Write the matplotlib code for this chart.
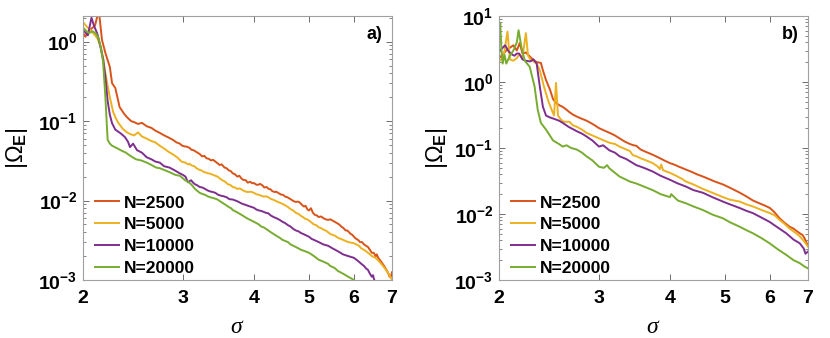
import math
import matplotlib
matplotlib.use("Agg")
import matplotlib.pyplot as plt
from matplotlib.ticker import FixedLocator, NullLocator, LogLocator, NullFormatter

plt.rcParams['font.family'] = ['Liberation Sans', 'DejaVu Sans']
plt.rcParams['mathtext.fontset'] = 'custom'
plt.rcParams['mathtext.rm'] = 'Liberation Sans'
plt.rcParams['mathtext.bf'] = 'Liberation Sans:bold'
plt.rcParams['mathtext.it'] = 'Liberation Serif:italic'

labels = ["N=2500", "N=5000", "N=10000", "N=20000"]
colors = ["#D95319", "#EDB120", "#7E2F8E", "#77AC30"]
xticks = [2, 3, 4, 5, 6, 7]

# ---------------- panel a ----------------
a_s2500 = [2.00, 2.02, 2.04, 2.07, 2.10, 2.12, 2.135, 2.16, 2.19, 2.23, 2.25, 2.28, 2.32, 2.36, 2.39, 2.43,
           2.46, 2.50, 2.54, 2.59, 2.64, 2.68, 2.73, 2.78, 2.83, 2.88, 2.92, 2.96, 2.99, 3.02, 3.05, 3.08,
           3.105, 3.13, 3.155, 3.18, 3.21, 3.24, 3.27, 3.30, 3.33, 3.36, 3.39, 3.42, 3.45, 3.48, 3.51, 3.55,
           3.58, 3.61, 3.64, 3.67, 3.70, 3.74, 3.77, 3.80, 3.83, 3.87, 3.90, 3.94, 3.97, 4.00, 4.04, 4.07,
           4.10, 4.14, 4.17, 4.21, 4.24, 4.28, 4.31, 4.35, 4.38, 4.42, 4.46, 4.50, 4.54, 4.58, 4.62, 4.66,
           4.70, 4.74, 4.78, 4.82, 4.86, 4.90, 4.93, 4.97, 5.00, 5.04, 5.08, 5.12, 5.16, 5.20, 5.25, 5.30,
           5.35, 5.40, 5.45, 5.50, 5.55, 5.60, 5.65, 5.70, 5.75, 5.80, 5.84, 5.88, 5.92, 5.96, 6.00, 6.05,
           6.10, 6.15, 6.20, 6.25, 6.30, 6.35, 6.40, 6.45, 6.50, 6.55, 6.58, 6.62, 6.66, 6.70, 6.74, 6.78,
           6.82, 6.86, 6.90, 6.93, 6.97, 7.00]
a_v2500 = [1.28, 1.15, 1.32, 1.45, 1.60, 2.10, 2.30, 1.05, 0.72, 0.48, 0.30, 0.26, 0.15, 0.125, 0.112, 0.100,
           0.097, 0.092, 0.095, 0.086, 0.082, 0.076, 0.071, 0.066, 0.062, 0.058, 0.054, 0.052, 0.049, 0.048, 0.0475, 0.046,
           0.0435, 0.043, 0.0415, 0.040, 0.0385, 0.036, 0.0365, 0.034, 0.0335, 0.032, 0.0325, 0.031, 0.0295, 0.028, 0.0285, 0.026,
           0.0255, 0.024, 0.0235, 0.022, 0.0215, 0.020, 0.0205, 0.019, 0.0182, 0.018, 0.0168, 0.0172, 0.0165, 0.0166, 0.0158, 0.0158,
           0.0162, 0.0155, 0.0146, 0.0148, 0.0141, 0.0138, 0.0131, 0.0128, 0.0129, 0.0124, 0.0119, 0.0118, 0.0112, 0.0110, 0.0106, 0.0102,
           0.0098, 0.0096, 0.0097, 0.0094, 0.0088, 0.0084, 0.0086, 0.0077, 0.0075, 0.0080, 0.0070, 0.0066, 0.0065, 0.0062, 0.0063, 0.0060,
           0.0058, 0.0057, 0.0058, 0.0056, 0.0054, 0.0052, 0.0050, 0.0047, 0.0045, 0.0042, 0.0042, 0.0040, 0.0038, 0.0037, 0.0035, 0.0033,
           0.0032, 0.0030, 0.0030, 0.0028, 0.0027, 0.0026, 0.0024, 0.0022, 0.0022, 0.0020, 0.0021, 0.0019, 0.0018, 0.0017, 0.0016, 0.0015,
           0.0014, 0.0013, 0.0012, 0.0011, 0.0011, 0.00125]

a_s5000 = [2.00, 2.03, 2.06, 2.09, 2.12, 2.15, 2.17, 2.19, 2.21, 2.23, 2.26, 2.29, 2.31, 2.35, 2.39, 2.43,
           2.46, 2.50, 2.54, 2.59, 2.64, 2.68, 2.73, 2.78, 2.83, 2.88, 2.93, 2.98, 3.00, 3.03, 3.06, 3.08,
           3.11, 3.14, 3.17, 3.20, 3.23, 3.26, 3.29, 3.32, 3.35, 3.39, 3.42, 3.45, 3.48, 3.52, 3.56, 3.60,
           3.63, 3.67, 3.70, 3.74, 3.78, 3.82, 3.86, 3.90, 3.95, 4.00, 4.04, 4.08, 4.12, 4.16, 4.20, 4.24,
           4.28, 4.33, 4.38, 4.44, 4.49, 4.54, 4.59, 4.64, 4.69, 4.74, 4.79, 4.84, 4.88, 4.92, 4.96, 5.00,
           5.05, 5.10, 5.15, 5.20, 5.25, 5.30, 5.35, 5.40, 5.45, 5.50, 5.56, 5.62, 5.68, 5.74, 5.80, 5.86,
           5.93, 6.00, 6.06, 6.12, 6.18, 6.25, 6.30, 6.35, 6.40, 6.45, 6.50, 6.55, 6.60, 6.65, 6.70, 6.75,
           6.80, 6.85, 6.90, 6.95, 7.00]
a_v5000 = [1.76, 1.55, 1.40, 1.25, 1.10, 0.85, 0.62, 0.40, 0.28, 0.20, 0.13, 0.105, 0.094, 0.080, 0.072, 0.068,
           0.066, 0.072, 0.064, 0.060, 0.056, 0.054, 0.049, 0.045, 0.041, 0.038, 0.035, 0.031, 0.0305, 0.030, 0.0285, 0.029,
           0.0275, 0.027, 0.0255, 0.0245, 0.0240, 0.023, 0.0225, 0.022, 0.0218, 0.021, 0.0205, 0.020, 0.019, 0.018, 0.0172, 0.016,
           0.0158, 0.0148, 0.0146, 0.0140, 0.0142, 0.0135, 0.0130, 0.0128, 0.0129, 0.0125, 0.0120, 0.0118, 0.0115, 0.0112, 0.0113, 0.0110,
           0.0105, 0.0102, 0.0098, 0.0094, 0.0091, 0.0087, 0.0083, 0.0078, 0.0075, 0.0070, 0.0068, 0.0064, 0.0062, 0.0059, 0.0058, 0.0056,
           0.0053, 0.0050, 0.0049, 0.0046, 0.0045, 0.0043, 0.0042, 0.0040, 0.0038, 0.0037, 0.0036, 0.0034, 0.0033, 0.0032, 0.0031, 0.0030,
           0.00295, 0.0029, 0.0028, 0.0027, 0.0025, 0.0024, 0.0023, 0.0022, 0.0021, 0.0020, 0.00195, 0.0019, 0.0018, 0.0017, 0.0016, 0.0015,
           0.0014, 0.0013, 0.0012, 0.0011, 0.0010]

a_s10000 = [2.00, 2.02, 2.04, 2.07, 2.09, 2.12, 2.14, 2.17, 2.19, 2.21, 2.23, 2.25, 2.28, 2.33, 2.37, 2.40,
            2.42, 2.45, 2.49, 2.54, 2.59, 2.64, 2.68, 2.73, 2.78, 2.84, 2.90, 2.96, 3.00, 3.03, 3.06, 3.10,
            3.125, 3.15, 3.18, 3.21, 3.245, 3.28, 3.315, 3.35, 3.385, 3.42, 3.46, 3.50, 3.54, 3.58, 3.62, 3.67,
            3.71, 3.75, 3.79, 3.83, 3.87, 3.92, 3.96, 4.00, 4.04, 4.08, 4.12, 4.16, 4.20, 4.24, 4.28, 4.33,
            4.38, 4.44, 4.49, 4.54, 4.59, 4.64, 4.69, 4.74, 4.79, 4.84, 4.88, 4.92, 4.96, 5.00, 5.05, 5.10,
            5.15, 5.20, 5.25, 5.30, 5.35, 5.40, 5.45, 5.50, 5.56, 5.62, 5.68, 5.74, 5.80, 5.86, 5.93, 6.00,
            6.06, 6.12, 6.18, 6.25, 6.30, 6.35, 6.40, 6.45, 6.48, 6.52]
a_v10000 = [1.40, 1.30, 1.20, 2.00, 1.60, 1.25, 0.95, 0.60, 0.36, 0.18, 0.12, 0.094, 0.078, 0.070, 0.063, 0.055,
            0.047, 0.052, 0.043, 0.040, 0.035, 0.033, 0.031, 0.030, 0.027, 0.026, 0.024, 0.022, 0.021, 0.020, 0.017, 0.018,
            0.0168, 0.016, 0.0155, 0.0148, 0.0146, 0.0140, 0.0134, 0.0130, 0.0128, 0.0125, 0.0118, 0.0115, 0.0113, 0.0110, 0.0104, 0.0103,
            0.0100, 0.0097, 0.0093, 0.0090, 0.0088, 0.0085, 0.0083, 0.0081, 0.0077, 0.0075, 0.0074, 0.0072, 0.0070, 0.0069, 0.0065, 0.0062,
            0.0060, 0.0057, 0.0054, 0.0052, 0.0049, 0.0047, 0.0044, 0.0042, 0.0041, 0.0039, 0.0038, 0.0037, 0.0036, 0.0035, 0.0033, 0.0032,
            0.0031, 0.0030, 0.0029, 0.0028, 0.00275, 0.0027, 0.0026, 0.0025, 0.0024, 0.0023, 0.0022, 0.0021, 0.00205, 0.0020, 0.00195, 0.0019,
            0.0018, 0.0017, 0.0016, 0.0015, 0.0014, 0.00134, 0.0012, 0.0011, 0.00115, 0.00098]

a_s20000 = [2.00, 2.03, 2.05, 2.08, 2.11, 2.13, 2.15, 2.17, 2.19, 2.21, 2.23, 2.25, 2.29, 2.33, 2.38, 2.43,
            2.48, 2.53, 2.59, 2.64, 2.69, 2.73, 2.79, 2.85, 2.91, 2.96, 3.00, 3.025, 3.05, 3.075, 3.10, 3.125,
            3.15, 3.18, 3.21, 3.245, 3.28, 3.315, 3.35, 3.40, 3.45, 3.50, 3.55, 3.585, 3.62, 3.645, 3.67, 3.71,
            3.75, 3.79, 3.83, 3.87, 3.92, 3.96, 4.00, 4.04, 4.08, 4.12, 4.16, 4.20, 4.24, 4.28, 4.33, 4.38,
            4.44, 4.49, 4.54, 4.59, 4.64, 4.69, 4.74, 4.79, 4.84, 4.88, 4.92, 4.96, 5.00, 5.05, 5.10, 5.15,
            5.20, 5.25, 5.30, 5.35, 5.40, 5.45, 5.50, 5.56, 5.62, 5.68, 5.74, 5.80, 5.86, 5.93, 6.00]
a_v20000 = [1.50, 1.35, 1.28, 1.35, 1.25, 1.10, 0.85, 0.55, 0.20, 0.058, 0.052, 0.049, 0.046, 0.043, 0.040, 0.036,
            0.033, 0.032, 0.030, 0.028, 0.026, 0.0255, 0.024, 0.0225, 0.021, 0.0205, 0.019, 0.018, 0.0175, 0.0168, 0.016, 0.015,
            0.014, 0.0132, 0.0125, 0.0121, 0.0118, 0.0113, 0.0110, 0.0107, 0.0103, 0.0096, 0.0090, 0.0086, 0.0082, 0.0080, 0.0076, 0.0073,
            0.0070, 0.0067, 0.0064, 0.0061, 0.0058, 0.0056, 0.0054, 0.0052, 0.0050, 0.0047, 0.0046, 0.0044, 0.0042, 0.0040, 0.0038, 0.0036,
            0.0034, 0.0032, 0.0031, 0.0030, 0.0028, 0.0027, 0.0026, 0.0025, 0.0024, 0.00235, 0.0023, 0.00225, 0.0022, 0.0021, 0.0020, 0.0019,
            0.0018, 0.00175, 0.0017, 0.00165, 0.0016, 0.0015, 0.00146, 0.0014, 0.0013, 0.00125, 0.0012, 0.00115, 0.0011, 0.00105, 0.0010]

# ---------------- panel b ----------------
b_s2500 = [2.00, 2.03, 2.06, 2.09, 2.12, 2.15, 2.175, 2.20, 2.23, 2.27, 2.30, 2.33, 2.37, 2.39, 2.42, 2.46,
           2.49, 2.52, 2.56, 2.59, 2.63, 2.66, 2.70, 2.74, 2.79, 2.85, 2.90, 2.95, 3.00, 3.06, 3.13, 3.20,
           3.26, 3.33, 3.40, 3.45, 3.49, 3.55, 3.62, 3.73, 3.84, 3.92, 4.00, 4.07, 4.15, 4.27, 4.38, 4.46,
           4.57, 4.68, 4.80, 4.96, 5.10, 5.20, 5.31, 5.45, 5.60, 5.75, 5.90, 6.00, 6.10, 6.24, 6.35, 6.50,
           6.60, 6.77, 6.85, 6.91, 7.00]
b_v2500 = [2.3, 2.6, 3.0, 3.3, 3.6, 3.0, 3.9, 2.7, 2.8, 2.4, 2.15, 2.0, 1.95, 1.5, 1.07, 0.76,
           0.55, 0.48, 0.44, 0.42, 0.38, 0.35, 0.32, 0.30, 0.28, 0.26, 0.24, 0.22, 0.20, 0.185, 0.17, 0.155,
           0.14, 0.125, 0.115, 0.110, 0.108, 0.095, 0.088, 0.079, 0.070, 0.064, 0.059, 0.056, 0.052, 0.047, 0.043, 0.040,
           0.037, 0.034, 0.031, 0.028, 0.025, 0.023, 0.021, 0.0185, 0.016, 0.0145, 0.0132, 0.0123, 0.0108, 0.0086, 0.0075, 0.0064,
           0.0060, 0.0051, 0.0048, 0.0042, 0.0033]

b_s5000 = [2.00, 2.02, 2.04, 2.07, 2.09, 2.12, 2.15, 2.17, 2.20, 2.23, 2.25, 2.27, 2.30, 2.33, 2.36, 2.40,
           2.44, 2.47, 2.50, 2.52, 2.54, 2.57, 2.60, 2.66, 2.70, 2.74, 2.80, 2.85, 2.92, 3.00, 3.06, 3.13,
           3.20, 3.26, 3.33, 3.40, 3.44, 3.49, 3.55, 3.63, 3.73, 3.80, 3.84, 3.86, 3.89, 4.00, 4.10, 4.20,
           4.27, 4.40, 4.57, 4.75, 4.96, 5.10, 5.31, 5.45, 5.60, 5.80, 6.00, 6.12, 6.24, 6.35, 6.50, 6.65,
           6.77, 6.90, 7.00]
b_v5000 = [2.05, 2.2, 2.6, 5.8, 2.2, 2.1, 2.3, 2.6, 2.4, 5.5, 2.5, 2.2, 2.05, 1.9, 1.5, 0.85,
           0.53, 0.40, 0.31, 0.97, 0.31, 0.27, 0.25, 0.25, 0.22, 0.21, 0.19, 0.17, 0.155, 0.14, 0.13, 0.12,
           0.115, 0.105, 0.097, 0.090, 0.078, 0.075, 0.070, 0.065, 0.059, 0.053, 0.048, 0.056, 0.046, 0.042, 0.038, 0.034,
           0.031, 0.028, 0.024, 0.021, 0.018, 0.0165, 0.0154, 0.014, 0.013, 0.0115, 0.0103, 0.0095, 0.0081, 0.0072, 0.0060, 0.0052,
           0.0046, 0.0038, 0.0032]

b_s10000 = [2.00, 2.03, 2.05, 2.08, 2.11, 2.13, 2.15, 2.17, 2.20, 2.23, 2.27, 2.30, 2.33, 2.36, 2.39, 2.42,
            2.46, 2.49, 2.55, 2.59, 2.65, 2.74, 2.80, 2.85, 2.92, 3.00, 3.05, 3.13, 3.20, 3.26, 3.35, 3.49,
            3.60, 3.73, 3.85, 4.00, 4.13, 4.27, 4.40, 4.57, 4.75, 4.96, 5.10, 5.31, 5.45, 5.60, 5.80, 5.99,
            6.15, 6.41, 6.60, 6.77, 6.88, 6.93, 7.00]
b_v10000 = [2.9, 3.3, 3.6, 2.9, 2.6, 2.5, 2.7, 2.7, 2.2, 2.1, 2.05, 2.2, 1.9, 0.85, 0.42, 0.31,
            0.29, 0.28, 0.26, 0.24, 0.21, 0.18, 0.165, 0.15, 0.13, 0.105, 0.11, 0.092, 0.085, 0.075, 0.068, 0.055,
            0.050, 0.044, 0.038, 0.033, 0.029, 0.026, 0.023, 0.021, 0.018, 0.0154, 0.014, 0.0123, 0.0112, 0.0103, 0.0088, 0.0076,
            0.0065, 0.0051, 0.0041, 0.0036, 0.0030, 0.0025, 0.0027]

b_s20000 = [2.00, 2.01, 2.02, 2.03, 2.045, 2.06, 2.09, 2.12, 2.15, 2.165, 2.19, 2.22, 2.265, 2.31, 2.34, 2.37,
            2.42, 2.49, 2.55, 2.59, 2.63, 2.68, 2.74, 2.80, 2.85, 2.92, 3.00, 3.06, 3.10, 3.13, 3.26, 3.40,
            3.49, 3.60, 3.73, 3.85, 4.00, 4.02, 4.13, 4.27, 4.40, 4.57, 4.75, 4.96, 5.10, 5.31, 5.45, 5.60,
            5.80, 5.99, 6.20, 6.41, 6.60, 6.77, 6.90, 7.00]
b_v20000 = [4.9, 7.8, 3.0, 1.9, 2.6, 1.9, 2.5, 3.0, 4.0, 6.1, 3.4, 2.1, 1.7, 0.86, 0.38, 0.24,
            0.19, 0.13, 0.115, 0.105, 0.11, 0.10, 0.095, 0.085, 0.075, 0.065, 0.052, 0.050, 0.055, 0.049, 0.037, 0.031,
            0.029, 0.026, 0.023, 0.020, 0.018, 0.020, 0.016, 0.0145, 0.013, 0.0115, 0.0098, 0.0086, 0.0075, 0.0064, 0.0057, 0.0051,
            0.0043, 0.0036, 0.0029, 0.0024, 0.0020, 0.0018, 0.0016, 0.0015]

panel_a = [(a_s2500, a_v2500), (a_s5000, a_v5000), (a_s10000, a_v10000), (a_s20000, a_v20000)]
panel_b = [(b_s2500, b_v2500), (b_s5000, b_v5000), (b_s10000, b_v10000), (b_s20000, b_v20000)]

fig = plt.figure(figsize=(8.3, 3.38), dpi=100)
ax_a = fig.add_axes([83/830, 1-280/338, 309/830, 264/338])
ax_b = fig.add_axes([499/830, 1-280/338, 309/830, 264/338])


def style(ax, series, ylim, yticks, tag, ylab_x):
    for (s, v), c, lab in zip(series, colors, labels):
        ax.plot(s, v, color=c, lw=1.4, label=lab)
    ax.set_xscale('log')
    ax.set_yscale('log')
    ax.set_xlim(2, 7)
    ax.set_ylim(*ylim)
    ax.xaxis.set_major_locator(FixedLocator(xticks))
    ax.xaxis.set_minor_locator(NullLocator())
    ax.set_xticklabels([str(t) for t in xticks])
    ax.yaxis.set_major_locator(FixedLocator(yticks))
    ax.set_yticklabels([r'$\mathbf{10^{%d}}$' % int(round(math.log10(t))) for t in yticks])
    ax.yaxis.set_minor_locator(LogLocator(base=10, subs=range(2, 10)))
    ax.yaxis.set_minor_formatter(NullFormatter())
    ax.tick_params(which='both', direction='in', top=True, right=True, color='#555555')
    ax.tick_params(which='major', length=4, width=0.6, labelsize=14)
    ax.tick_params(axis='x', which='major', pad=7)
    ax.tick_params(axis='y', which='major', pad=4)
    ax.tick_params(which='minor', length=2, width=0.5)
    for lbl in ax.get_xticklabels():
        lbl.set_fontweight('bold')
    for sp in ax.spines.values():
        sp.set_color('#a0a0a0')
        sp.set_linewidth(0.8)
    ax.set_ylabel(r'$|\Omega_{\mathbf{E}}|$', fontsize=17)
    ax.yaxis.set_label_coords(ylab_x, 0.5)
    ax.set_xlabel(r'$\sigma$', fontsize=17)
    ax.xaxis.set_label_coords(0.5, -0.135)
    ax.text(0.97, 0.93, tag, transform=ax.transAxes, ha='right', va='center',
            fontsize=13, fontweight='bold')
    ax.legend(loc='lower left', bbox_to_anchor=(0.0, -0.03), frameon=False,
              prop={'weight': 'bold', 'size': 12.5}, handlelength=1.4,
              handletextpad=0.25, labelspacing=0.38, borderaxespad=0.3)


style(ax_a, panel_a, (1e-3, 2.1), [1e-3, 1e-2, 1e-1, 1e0], 'a)', -0.172)
style(ax_b, panel_b, (1e-3, 1e1), [1e-3, 1e-2, 1e-1, 1e0, 1e1], 'b)', -0.16)

fig.savefig('out.png', dpi=100)
